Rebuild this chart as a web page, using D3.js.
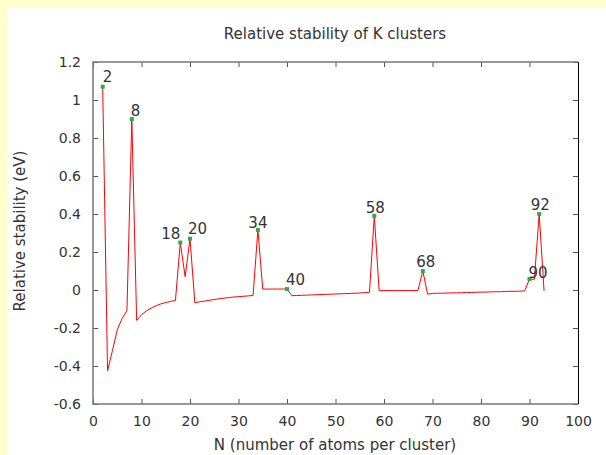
<!DOCTYPE html>
<html>
<head>
<meta charset="utf-8">
<script src="https://cdn.jsdelivr.net/npm/d3@7"></script>
<style>
  html, body { margin: 0; padding: 0; background: #ffffcc; }
  #chart { position: absolute; left: 7px; top: 7px; width: 599px; height: 448px; background: #fff; }
  svg { position: absolute; left: 0; top: 0; }
  text { font-family: "DejaVu Sans", sans-serif; fill: #333; }
</style>
</head>
<body>
<div id="chart"></div>
<svg id="plot" width="606" height="455"></svg>
<script>
// cluster sizes and relative stability values (eV)
const sizes = [2, 3, 4, 5, 6, 7, 8, 9, 10, 11, 12, 13, 14, 15, 16, 17, 18, 19, 20, 21,
  22, 23, 24, 25, 26, 27, 28, 29, 30, 31, 32, 33, 34, 35, 36, 37, 38, 39, 40, 41,
  42, 43, 44, 45, 46, 47, 48, 49, 50, 51, 52, 53, 54, 55, 56, 57, 58, 59, 60, 61,
  62, 63, 64, 65, 66, 67, 68, 69, 70, 71, 72, 73, 74, 75, 76, 77, 78, 79, 80, 81,
  82, 83, 84, 85, 86, 87, 88, 89, 90, 91, 92, 93];
const stability = [1.07, -0.425, -0.32, -0.21, -0.15, -0.11, 0.90, -0.16, -0.13, -0.11,
  -0.095, -0.083, -0.073, -0.066, -0.060, -0.055, 0.25, 0.07, 0.27, -0.067,
  -0.062, -0.058, -0.054, -0.050, -0.046, -0.043, -0.040, -0.037, -0.035, -0.033,
  -0.031, -0.029, 0.316, 0.005, 0.005, 0.005, 0.005, 0.005, 0.005, -0.030,
  -0.029, -0.028, -0.027, -0.026, -0.025, -0.024, -0.023, -0.022, -0.021, -0.020,
  -0.019, -0.018, -0.017, -0.016, -0.014, -0.012, 0.39, -0.004, -0.003, -0.003,
  -0.003, -0.003, -0.003, -0.003, -0.003, -0.003, 0.10, -0.022, -0.018, -0.017,
  -0.017, -0.016, -0.015, -0.015, -0.014, -0.013, -0.013, -0.012, -0.011, -0.011,
  -0.010, -0.009, -0.009, -0.008, -0.007, -0.007, -0.006, -0.005, 0.058, 0.056,
  0.40, -0.005];

// magic numbers that get a marker and label
const magic = [2, 8, 18, 20, 34, 40, 58, 68, 90, 92];
const xTicks = [0, 10, 20, 30, 40, 50, 60, 70, 80, 90, 100];
const yTicks = [-0.6, -0.4, -0.2, 0, 0.2, 0.4, 0.6, 0.8, 1, 1.2];

// label placement next to each marker
const labelAnchor = ["start", "start", "end", "start", "middle", "start", "middle", "middle", "start", "middle"];
const labelDx = [0, -1, 0, -2, 0, -1, 1, 3, -1, 1];
const labelDy = [-5, -3, -4, -5, -2, -4, -3, -4, -1, -4];

const data = sizes.map((n, i) => ({n: n, v: stability[i]}));

const margin = {top: 62, right: 28, bottom: 51, left: 93},
  width = 606 - margin.left - margin.right,
  height = 455 - margin.top - margin.bottom;

const svg = d3.select("#plot");
const g = svg.append("g")
  .attr("transform", `translate(${margin.left},${margin.top})`);

const x = d3.scaleLinear().domain([0, 100]).range([0, width]);
const y = d3.scaleLinear().domain([-0.6, 1.2]).range([height, 0]);

// ticks on all four sides, pointing inward
g.append("g")
  .attr("transform", `translate(0,${height})`)
  .call(d3.axisBottom(x).tickValues(xTicks).tickSize(-5).tickPadding(12).tickFormat(d => String(d)));
g.append("g")
  .call(d3.axisTop(x).tickValues(xTicks).tickSize(-5).tickFormat(""));
g.append("g")
  .call(d3.axisLeft(y).tickValues(yTicks).tickSize(-5).tickPadding(12).tickFormat(d => String(+d.toFixed(1))));
g.append("g")
  .attr("transform", `translate(${width},0)`)
  .call(d3.axisRight(y).tickValues(yTicks).tickSize(-5).tickFormat(""));

g.selectAll(".domain").remove();
g.selectAll(".tick line").attr("stroke", "#555");
g.selectAll(".tick text").attr("font-size", 14).attr("fill", "#333");

// frame
g.append("path")
  .attr("d", `M${width},${height}H0V0H${width}`)
  .attr("fill", "none")
  .attr("stroke", "#777")
  .attr("stroke-width", 1.5);
g.append("line")
  .attr("x1", width + 0.5).attr("x2", width + 0.5)
  .attr("y1", 0).attr("y2", height)
  .attr("stroke", "#000");

// the curve
g.append("path")
  .datum(data)
  .attr("fill", "none")
  .attr("stroke", "#ff0000")
  .attr("stroke-width", 1)
  .attr("d", d3.line().x(d => x(d.n)).y(d => y(d.v)));

// markers and labels at magic numbers
const peaks = data.filter(d => magic.includes(d.n));
g.selectAll(".marker")
  .data(peaks)
  .join("rect")
  .attr("x", d => x(d.n) - 2)
  .attr("y", d => y(d.v) - 2)
  .attr("width", 4)
  .attr("height", 4)
  .attr("fill", "#33aa44");

g.selectAll(".peak-label")
  .data(peaks)
  .join("text")
  .attr("x", (d, i) => x(d.n) + labelDx[i])
  .attr("y", (d, i) => y(d.v) + labelDy[i])
  .attr("text-anchor", (d, i) => labelAnchor[i])
  .attr("font-size", 15)
  .text(d => d.n);

// titles
svg.append("text")
  .attr("x", 335).attr("y", 39)
  .attr("text-anchor", "middle")
  .attr("font-size", 15)
  .text("Relative stability of K clusters");

svg.append("text")
  .attr("x", 335).attr("y", 450)
  .attr("text-anchor", "middle")
  .attr("font-size", 15)
  .text("N (number of atoms per cluster)");

svg.append("text")
  .attr("transform", "translate(25,231) rotate(-90)")
  .attr("text-anchor", "middle")
  .attr("font-size", 15)
  .text("Relative stability (eV)");
</script>
</body>
</html>
